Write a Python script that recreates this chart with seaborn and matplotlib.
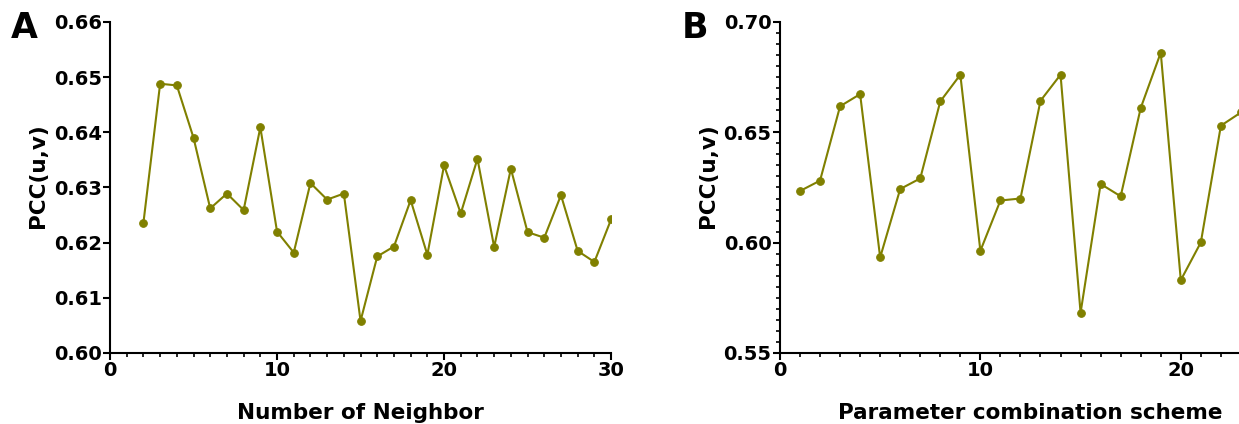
import matplotlib
matplotlib.use("Agg")
import matplotlib.pyplot as plt
import pandas as pd
import numpy as np
import seaborn as sns
from matplotlib.ticker import MultipleLocator

# panel A: PCC vs number of neighbours
neighbors = list(range(2, 31))
pcc_neighbors = [0.6236, 0.6488, 0.6485, 0.6390, 0.6262, 0.6289, 0.6259, 0.6409,
                 0.6220, 0.6182, 0.6308, 0.6278, 0.6289, 0.6058, 0.6175, 0.6193,
                 0.6277, 0.6178, 0.6340, 0.6253, 0.6352, 0.6192, 0.6334, 0.6219,
                 0.6209, 0.6286, 0.6185, 0.6165, 0.6242]

# panel B: PCC vs parameter combination scheme (right part is cut off in the figure)
schemes = list(range(1, 24))
pcc_schemes = [0.6234, 0.6281, 0.6618, 0.6673, 0.5933, 0.6243, 0.6291, 0.6640,
               0.6761, 0.5963, 0.6191, 0.6200, 0.6643, 0.6761, 0.5682, 0.6266,
               0.6210, 0.6610, 0.6861, 0.5830, 0.6001, 0.6530, 0.6590]

line_color = "#808000"

sns.set_style("ticks")
plt.rcParams["font.family"] = ["DejaVu Sans"]
plt.rcParams["font.weight"] = "bold"
plt.rcParams["text.color"] = "black"
plt.rcParams["axes.labelcolor"] = "black"
plt.rcParams["xtick.color"] = "black"
plt.rcParams["ytick.color"] = "black"

fig = plt.figure(figsize=(12.39, 4.24), dpi=100)
ax_a = fig.add_axes([0.0888, 0.1675, 0.4044, 0.7807])
ax_b = fig.add_axes([0.6295, 0.1675, 0.4044, 0.7807])

df_a = pd.DataFrame({"x": neighbors, "y": pcc_neighbors})
df_b = pd.DataFrame({"x": schemes, "y": pcc_schemes})

for ax, df in [(ax_a, df_a), (ax_b, df_b)]:
    sns.lineplot(data=df, x="x", y="y", ax=ax, color=line_color, marker="o",
                 markersize=5.5, linewidth=1.5, markeredgecolor=line_color)

ax_a.set_xlim(0, 30)
ax_a.set_ylim(0.60, 0.66)
ax_a.xaxis.set_major_locator(MultipleLocator(10))
ax_a.xaxis.set_minor_locator(MultipleLocator(1))
ax_a.set_yticks([0.60, 0.61, 0.62, 0.63, 0.64, 0.65, 0.66])
ax_a.set_yticklabels(["0.60", "0.61", "0.62", "0.63", "0.64", "0.65", "0.66"])
ax_a.set_xlabel("Number of Neighbor", fontsize=15.5, fontweight="bold", labelpad=16)

ax_b.set_xlim(0, 25)
ax_b.set_ylim(0.55, 0.70)
ax_b.xaxis.set_major_locator(MultipleLocator(10))
ax_b.xaxis.set_minor_locator(MultipleLocator(1))
ax_b.set_yticks([0.55, 0.60, 0.65, 0.70])
ax_b.set_yticklabels(["0.55", "0.60", "0.65", "0.70"])
ax_b.yaxis.set_minor_locator(MultipleLocator(0.005))
ax_b.set_xlabel("Parameter combination scheme", fontsize=15.5, fontweight="bold", labelpad=16)

for ax in [ax_a, ax_b]:
    ax.set_ylabel("PCC(u,v)", fontsize=15.5, fontweight="bold", labelpad=4)
    ax.yaxis.label.set_y(0.535)
    sns.despine(ax=ax)
    for side in ["left", "bottom"]:
        ax.spines[side].set_linewidth(1.5)
        ax.spines[side].set_color("black")
    ax.tick_params(axis="both", which="major", length=5, width=1.5,
                   labelsize=14, pad=1, color="black")
    ax.tick_params(axis="both", which="minor", length=3, width=1.2, color="black")
    for lbl in ax.get_xticklabels() + ax.get_yticklabels():
        lbl.set_fontweight("bold")

fig.text(0.009, 0.91, "A", fontsize=25, fontweight="bold")
fig.text(0.550, 0.91, "B", fontsize=25, fontweight="bold")

fig.savefig("out.png", dpi=100)
